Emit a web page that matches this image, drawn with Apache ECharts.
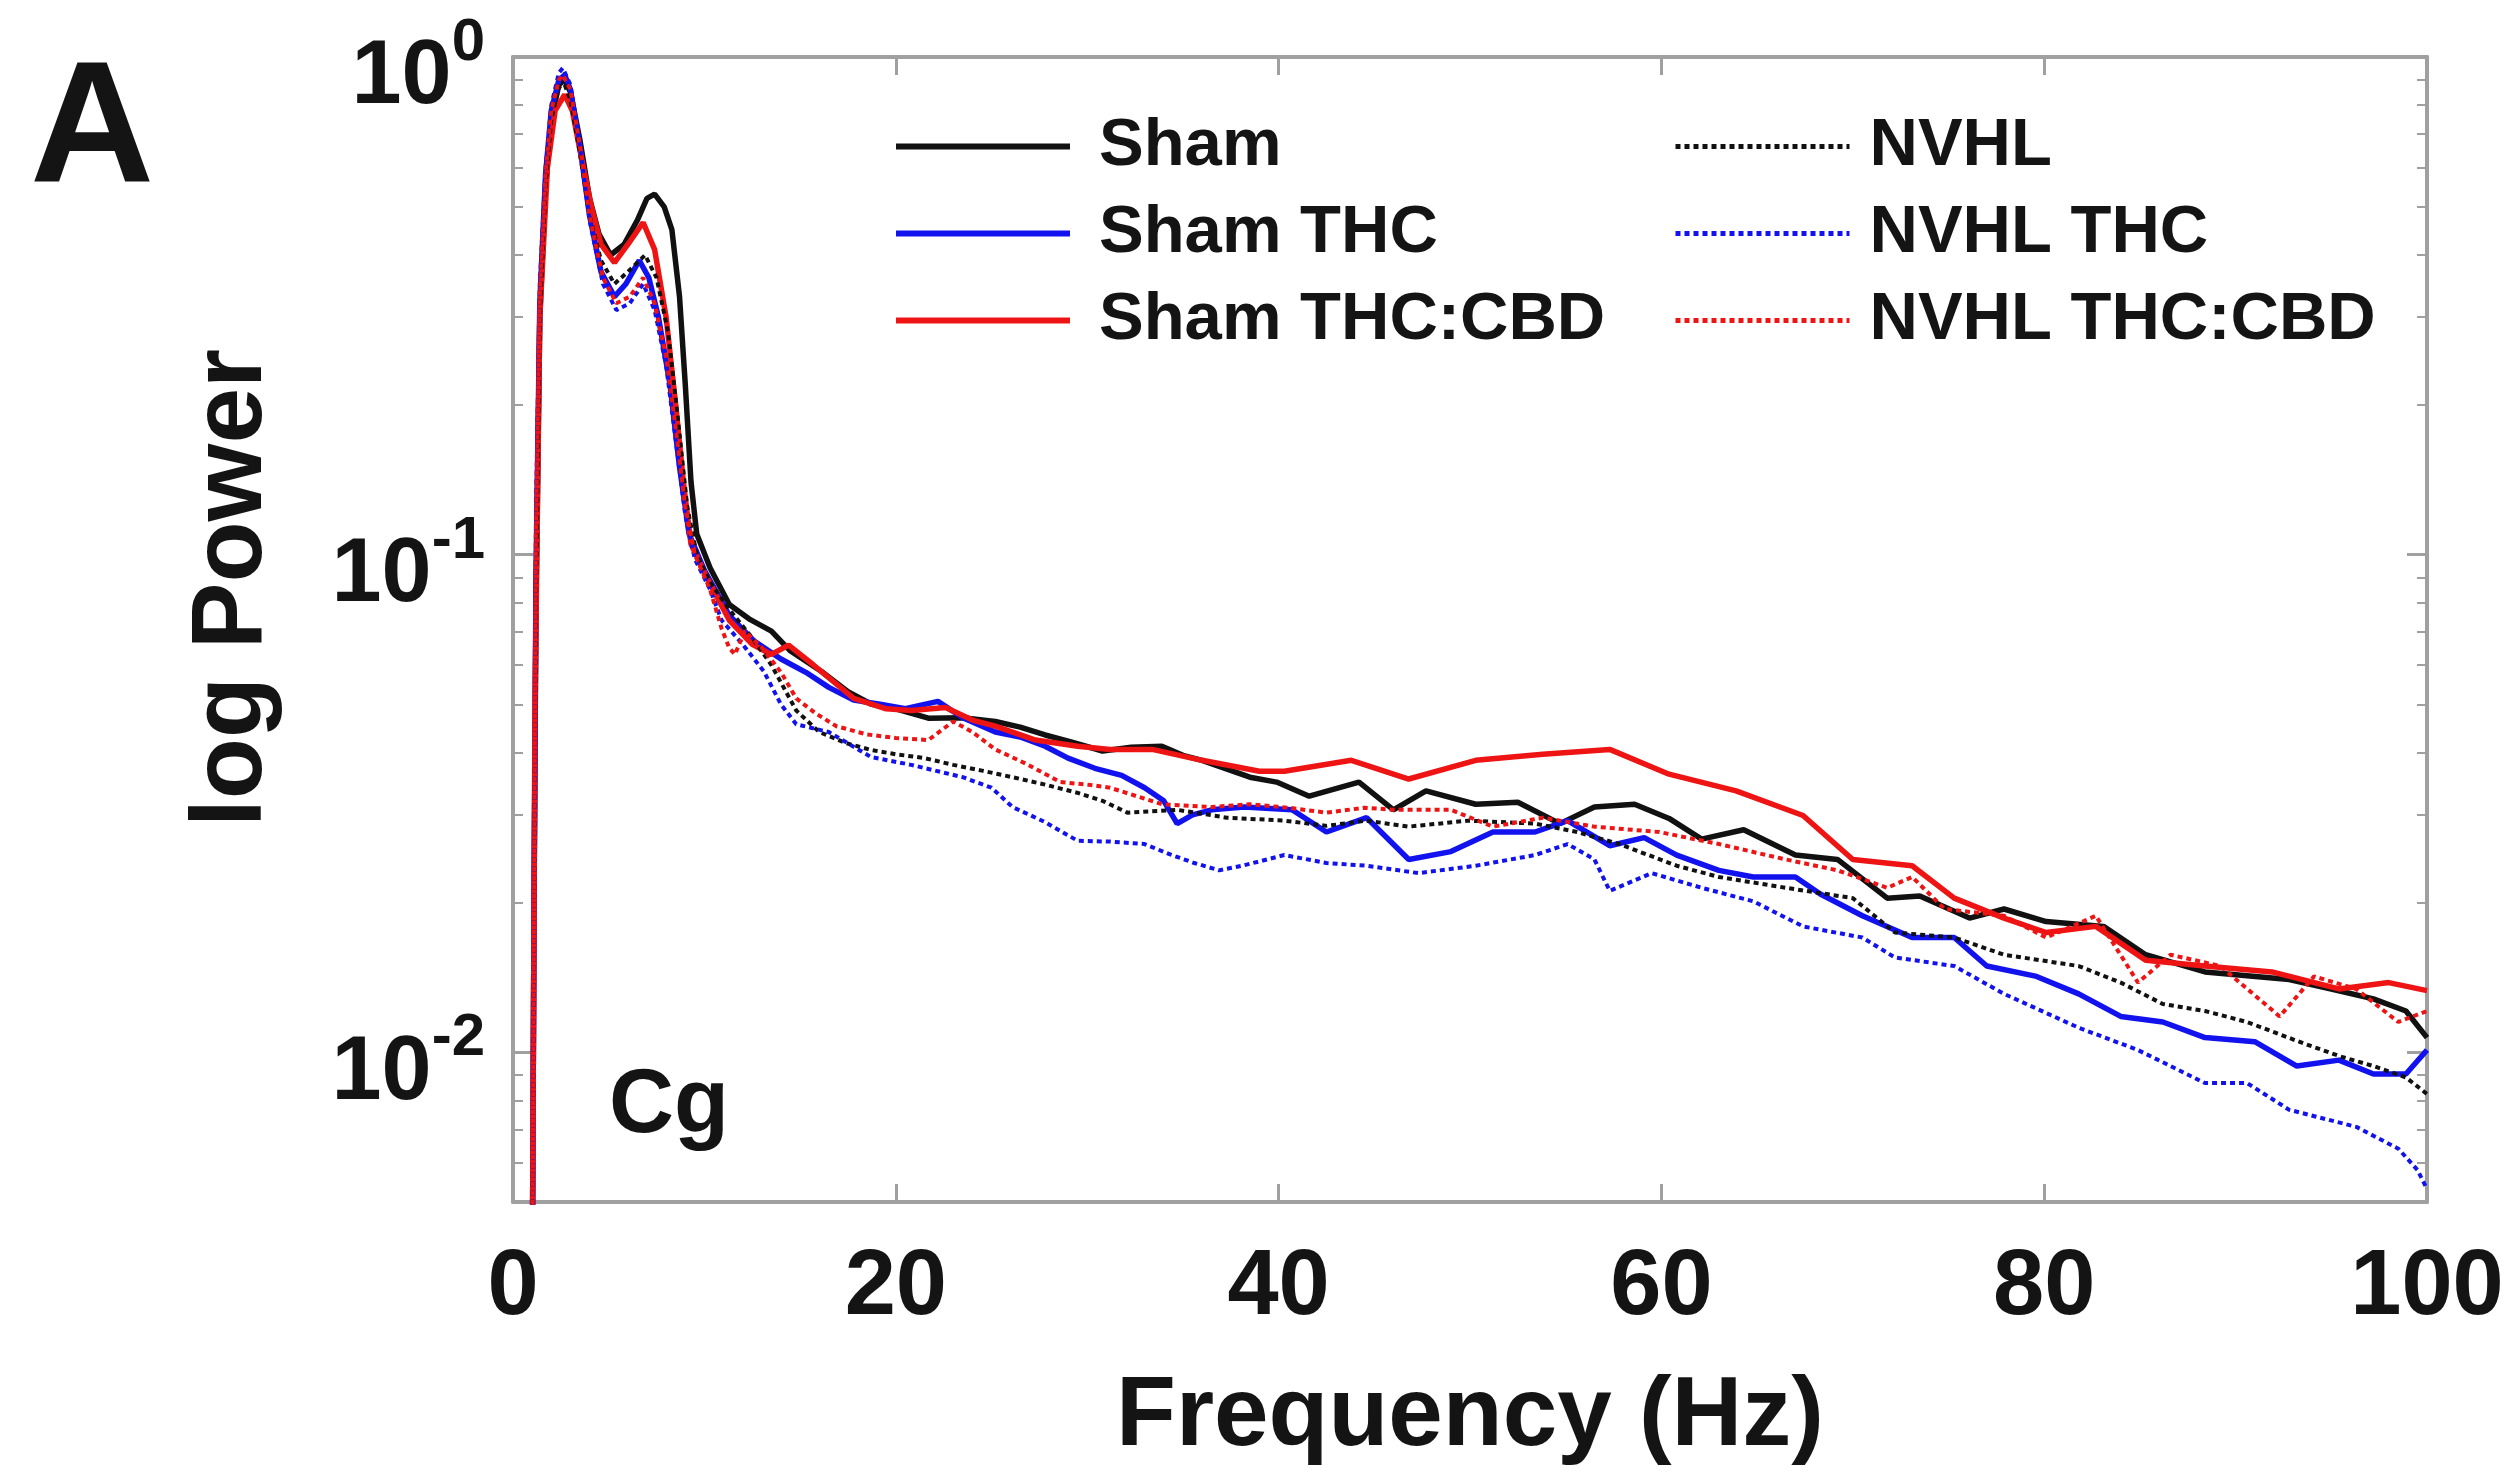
<!DOCTYPE html>
<html>
<head>
<meta charset="utf-8">
<script src="https://cdn.jsdelivr.net/npm/echarts@6/dist/echarts.min.js"></script>
<style>
html,body{margin:0;padding:0;background:#fff;}
#chart{width:2513px;height:1475px;}
</style>
</head>
<body>
<div id="chart"></div>
<script>
// ---- data: [frequency (Hz), power] ----
const seriesNames = ['Sham', 'Sham THC', 'Sham THC:CBD', 'NVHL', 'NVHL THC', 'NVHL THC:CBD'];
const xTickValues = [0, 20, 40, 60, 80, 100];
const yMajorTickValues = [0.01, 0.1, 1];
const yMinorTickValues = [0.006, 0.007, 0.008, 0.009, 0.02, 0.03, 0.04, 0.05, 0.06, 0.07, 0.08, 0.09, 0.2, 0.3, 0.4, 0.5, 0.6, 0.7, 0.8, 0.9];

const sham = [[1.0,0.003],[1.1,0.02],[1.2,0.08],[1.4,0.3],[1.7,0.55],[2.0,0.75],[2.4,0.88],[2.7,0.90],[3.0,0.85],[3.5,0.68],[4.0,0.52],[4.5,0.44],[5.1,0.40],[5.8,0.42],[6.5,0.47],[7.0,0.52],[7.4,0.53],[7.9,0.50],[8.3,0.45],[8.7,0.33],[9.0,0.22],[9.3,0.14],[9.6,0.11],[10.3,0.094],[11.3,0.0794],[12.4,0.074],[13.5,0.0702],[14.5,0.064],[16.1,0.0583],[17.5,0.053],[18.7,0.0501],[20.0,0.049],[21.7,0.0469],[23.5,0.047],[25.2,0.0462],[26.5,0.045],[27.8,0.0434],[29.2,0.042],[30.8,0.0403],[32.3,0.041],[33.9,0.0412],[35.0,0.0395],[36.0,0.0386],[38.5,0.0357],[39.9,0.0349],[41.6,0.0327],[44.2,0.0349],[46.0,0.0307],[47.7,0.0335],[50.3,0.0315],[52.5,0.0318],[54.7,0.0288],[56.5,0.0311],[58.6,0.0315],[60.4,0.0295],[62.1,0.0268],[64.3,0.0280],[67.0,0.0249],[69.2,0.0244],[71.8,0.0204],[73.5,0.0206],[76.1,0.0186],[77.9,0.0194],[80.1,0.0183],[83.1,0.0179],[85.3,0.0157],[88.4,0.0145],[92.8,0.0140],[95.0,0.0134],[97.2,0.0128],[98.9,0.0121],[100,0.0107]];

const shamTHC = [[1.0,0.003],[1.1,0.02],[1.2,0.09],[1.4,0.32],[1.7,0.58],[2.0,0.78],[2.4,0.90],[2.7,0.92],[3.0,0.86],[3.5,0.66],[4.0,0.48],[4.6,0.37],[5.3,0.33],[5.9,0.35],[6.6,0.39],[7.1,0.36],[7.6,0.30],[8.2,0.22],[8.7,0.15],[9.2,0.11],[10.0,0.093],[11.3,0.0755],[12.6,0.067],[14.0,0.0617],[15.3,0.058],[16.5,0.0541],[17.8,0.051],[19.1,0.0501],[20.5,0.049],[22.2,0.0507],[23.5,0.047],[25.2,0.044],[26.5,0.043],[27.8,0.0412],[29.0,0.039],[30.4,0.0372],[31.8,0.036],[33.0,0.034],[34.0,0.032],[34.7,0.0288],[35.5,0.030],[36.5,0.0307],[38.2,0.0311],[40.7,0.0307],[42.5,0.0277],[44.6,0.0296],[46.8,0.0244],[49.0,0.0253],[51.2,0.0277],[53.4,0.0277],[55.1,0.0292],[57.3,0.0260],[59.1,0.0270],[60.8,0.0249],[63.0,0.0232],[64.8,0.0225],[67.0,0.0225],[68.3,0.0208],[70.5,0.0188],[73.1,0.0170],[75.3,0.0170],[77.0,0.0149],[79.6,0.0142],[81.8,0.0131],[84.0,0.0118],[86.2,0.0115],[88.4,0.0107],[91.0,0.0105],[93.2,0.00938],[95.4,0.00964],[97.2,0.00904],[98.9,0.00904],[100,0.0101]];

const shamTHCCBD = [[1.0,0.003],[1.1,0.02],[1.15,0.05],[1.4,0.3],[1.8,0.6],[2.2,0.78],[2.7,0.84],[3.1,0.78],[3.6,0.62],[4.1,0.50],[4.6,0.42],[5.3,0.386],[6.0,0.42],[6.8,0.465],[7.4,0.41],[8.0,0.30],[8.5,0.20],[8.9,0.14],[9.3,0.105],[10.0,0.092],[11.3,0.0738],[12.5,0.066],[13.5,0.063],[14.4,0.0658],[15.7,0.060],[17.8,0.0514],[19.5,0.049],[20.8,0.0486],[22.6,0.0493],[24.0,0.0465],[25.2,0.0452],[27.3,0.0424],[29.5,0.0412],[31.2,0.0406],[33.4,0.0406],[36.0,0.0386],[39.0,0.0367],[40.3,0.0367],[43.8,0.0386],[46.8,0.0354],[50.3,0.0386],[53.8,0.0397],[57.3,0.0406],[60.4,0.0362],[63.9,0.0335],[67.4,0.0299],[70.0,0.0244],[73.1,0.0237],[75.3,0.0204],[77.9,0.0186],[80.1,0.0174],[82.7,0.0179],[85.3,0.0153],[88.4,0.0149],[91.9,0.0145],[95.4,0.0134],[98.0,0.0138],[100,0.0133]];

const nvhl = [[1.0,0.003],[1.1,0.02],[1.2,0.08],[1.4,0.3],[1.7,0.55],[2.0,0.75],[2.4,0.87],[2.7,0.88],[3.0,0.82],[3.5,0.64],[4.0,0.48],[4.6,0.39],[5.3,0.35],[6.0,0.37],[6.9,0.40],[7.5,0.36],[8.1,0.28],[8.6,0.19],[9.1,0.125],[9.6,0.10],[10.3,0.088],[11.3,0.0776],[12.5,0.068],[13.5,0.060],[14.8,0.0486],[16.0,0.0440],[17.4,0.0418],[18.7,0.0405],[20.0,0.0397],[21.5,0.039],[23.0,0.0378],[24.5,0.0368],[26.1,0.0357],[27.8,0.0345],[29.5,0.0332],[30.8,0.032],[32.1,0.0303],[34.7,0.0307],[37.3,0.0296],[40.3,0.0292],[42.5,0.0285],[44.6,0.0292],[46.8,0.0284],[49.9,0.0292],[53.4,0.0288],[55.6,0.0277],[57.8,0.0262],[60.8,0.0237],[63.0,0.0225],[66.5,0.0214],[70.0,0.0204],[72.2,0.0174],[75.3,0.0170],[77.9,0.0157],[81.8,0.0149],[84.0,0.0138],[86.2,0.0125],[88.4,0.0121],[90.6,0.0115],[93.6,0.0104],[95.5,0.0098],[97.2,0.00938],[98.9,0.0089],[100,0.00824]];

const nvhlTHC = [[1.0,0.003],[1.1,0.02],[1.2,0.12],[1.4,0.35],[1.7,0.60],[2.0,0.80],[2.4,0.93],[2.6,0.95],[3.0,0.88],[3.5,0.66],[4.0,0.47],[4.7,0.35],[5.4,0.31],[6.1,0.32],[6.8,0.35],[7.4,0.31],[8.0,0.24],[8.5,0.17],[9.0,0.12],[9.5,0.098],[10.3,0.085],[10.9,0.0738],[12.0,0.066],[13.1,0.0583],[14.0,0.050],[14.8,0.0456],[16.5,0.0440],[18.7,0.0392],[20.8,0.0378],[23.5,0.0357],[25.0,0.034],[26.1,0.0311],[27.8,0.0290],[29.5,0.0266],[31.2,0.0265],[33.0,0.0262],[34.3,0.025],[35.6,0.0240],[36.9,0.0232],[38.1,0.0237],[40.3,0.0249],[42.5,0.0240],[44.6,0.0237],[47.3,0.0229],[50.3,0.0237],[53.4,0.0249],[55.1,0.0262],[56.5,0.0244],[57.3,0.0211],[59.5,0.0229],[62.1,0.0214],[64.8,0.0201],[67.4,0.0179],[70.5,0.0170],[72.2,0.0155],[75.3,0.0149],[77.9,0.0131],[81.8,0.0112],[84.9,0.0101],[88.4,0.00867],[90.6,0.00867],[92.8,0.00766],[96.3,0.00708],[98.5,0.0064],[99.5,0.0058],[100,0.00531]];

const nvhlTHCCBD = [[1.0,0.003],[1.1,0.02],[1.2,0.11],[1.4,0.33],[1.7,0.58],[2.0,0.78],[2.4,0.90],[2.6,0.92],[3.0,0.86],[3.5,0.66],[4.0,0.48],[4.7,0.36],[5.4,0.32],[6.1,0.33],[6.8,0.36],[7.4,0.32],[8.0,0.25],[8.5,0.18],[9.0,0.125],[9.5,0.10],[10.3,0.085],[10.9,0.071],[11.3,0.0649],[11.6,0.063],[12.1,0.0702],[13.0,0.065],[14.0,0.058],[14.8,0.0514],[15.8,0.048],[16.9,0.0452],[18.5,0.0435],[20.0,0.0428],[21.7,0.0424],[23.0,0.0462],[24.0,0.044],[25.2,0.0406],[26.8,0.038],[28.6,0.0349],[30.0,0.0345],[31.2,0.0340],[33.9,0.0315],[36.5,0.0311],[38.5,0.0315],[40.5,0.031],[42.5,0.0303],[44.5,0.031],[46.0,0.0307],[49.0,0.0307],[51.2,0.0284],[53.8,0.0296],[56.5,0.0284],[59.9,0.0277],[63.0,0.0262],[66.5,0.0244],[69.2,0.0232],[71.8,0.0214],[73.1,0.0225],[74.8,0.0194],[77.9,0.0188],[80.1,0.0170],[82.7,0.0188],[84.9,0.0138],[86.6,0.0157],[89.2,0.0149],[92.3,0.0118],[94.1,0.0142],[96.3,0.0134],[98.5,0.0115],[100,0.0121]];

// ---- styling ----
const FONT = 'Liberation Sans, Arial, Helvetica, sans-serif';
const AXIS_GRAY = '#a0a0a0';
const TEXT = '#141414';
const BLACK = '#111111', BLUE = '#1212ee', RED = '#ee1414';

const chart = echarts.init(document.getElementById('chart'), null, {renderer: 'canvas'});

function lineSeries(name, data, color, dotted) {
  return {
    name: name, type: 'line', data: data,
    xAxisIndex: 0, yAxisIndex: 0,
    symbol: 'none', showSymbol: false, clip: true,
    lineStyle: {color: color, width: dotted ? 4 : 5.5, type: dotted ? [5, 4] : 'solid'},
    itemStyle: {color: color},
    emphasis: {disabled: true},
    z: dotted ? 3 : 2
  };
}

const logMin = 0.005, logMax = 1;

function yLabelFormatter(v) {
  const e = Math.round(Math.log10(v));
  if (Math.abs(Math.log10(v) - e) > 1e-6) return '';
  return '{b|10}{s|' + e + '}';
}

function legendCfg(names, left, textPadLeft, lineWidth) {
  return {
    data: names, orient: 'vertical', left: left, top: 113, padding: 0,
    itemWidth: 174, itemHeight: 20, itemGap: 20, selectedMode: false,
    itemStyle: {opacity: 0, borderWidth: 0},
    lineStyle: {width: lineWidth},
    textStyle: {fontFamily: FONT, fontWeight: 'bold', fontSize: 67, color: TEXT, lineHeight: 64, padding: [0, 0, 0, textPadLeft]}
  };
}

const option = {
  backgroundColor: '#ffffff',
  animation: false,
  grid: {left: 513, top: 57, right: 86, bottom: 273, containLabel: false},
  legend: [
    legendCfg(seriesNames.slice(0, 3), 893, 24, 6),
    legendCfg(seriesNames.slice(3), 1673, 15, 5)
  ],
  xAxis: [
    {
      type: 'value', position: 'bottom', min: 0, max: 100, interval: 20,
      name: 'Frequency (Hz)', nameLocation: 'middle', nameGap: 167,
      nameTextStyle: {fontFamily: FONT, fontWeight: 'bold', fontSize: 98, color: TEXT},
      axisLine: {show: true, onZero: false, lineStyle: {color: AXIS_GRAY, width: 4}},
      axisTick: {show: true, inside: true, length: 18, lineStyle: {color: AXIS_GRAY, width: 3}},
      axisLabel: {show: true, margin: 41, fontFamily: FONT, fontWeight: 'bold', fontSize: 92, color: TEXT,
        customValues: xTickValues, showMinLabel: true, showMaxLabel: true},
      splitLine: {show: false}
    },
    {
      type: 'value', position: 'top', min: 0, max: 100, interval: 20,
      axisLine: {show: true, onZero: false, lineStyle: {color: AXIS_GRAY, width: 4}},
      axisTick: {show: true, inside: true, length: 18, lineStyle: {color: AXIS_GRAY, width: 3}},
      axisLabel: {show: false}, splitLine: {show: false}
    }
  ],
  yAxis: [
    {
      type: 'log', logBase: 10, position: 'left', min: logMin, max: logMax,
      axisLine: {show: true, onZero: false, lineStyle: {color: AXIS_GRAY, width: 4}},
      axisTick: {show: true, inside: true, length: 20, customValues: yMajorTickValues, lineStyle: {color: AXIS_GRAY, width: 3}},
      axisLabel: {
        show: true, margin: 28, customValues: yMajorTickValues, formatter: yLabelFormatter,
        padding: [43, 0, 0, 0],
        rich: {
          b: {fontFamily: FONT, fontWeight: 'bold', fontSize: 90, lineHeight: 90, color: TEXT},
          s: {fontFamily: FONT, fontWeight: 'bold', fontSize: 60, lineHeight: 60, padding: [0, 0, 70, 0], color: TEXT}
        }
      },
      splitLine: {show: false}
    },
    {
      type: 'log', logBase: 10, position: 'left', min: logMin, max: logMax,
      axisLine: {show: false, onZero: false},
      axisTick: {show: true, inside: true, length: 10, customValues: yMinorTickValues, lineStyle: {color: AXIS_GRAY, width: 2}},
      axisLabel: {show: false}, splitLine: {show: false}
    },
    {
      type: 'log', logBase: 10, position: 'right', min: logMin, max: logMax,
      axisLine: {show: true, onZero: false, lineStyle: {color: AXIS_GRAY, width: 4}},
      axisTick: {show: true, inside: true, length: 20, customValues: yMajorTickValues, lineStyle: {color: AXIS_GRAY, width: 3}},
      axisLabel: {show: false}, splitLine: {show: false}
    },
    {
      type: 'log', logBase: 10, position: 'right', min: logMin, max: logMax,
      axisLine: {show: false, onZero: false},
      axisTick: {show: true, inside: true, length: 10, customValues: yMinorTickValues, lineStyle: {color: AXIS_GRAY, width: 2}},
      axisLabel: {show: false}, splitLine: {show: false}
    }
  ],
  graphic: [
    {type: 'text', x: 30, y: 134, style: {text: 'A', font: 'bold 172px ' + FONT, fill: TEXT, verticalAlign: 'middle', align: 'left'}},
    {type: 'text', x: 609, y: 1107, style: {text: 'Cg', font: 'bold 90px ' + FONT, fill: TEXT, verticalAlign: 'middle', align: 'left'}},
    {type: 'text', x: 233, y: 588, rotation: Math.PI / 2, style: {text: 'log Power', font: 'bold 100px ' + FONT, fill: TEXT, verticalAlign: 'middle', align: 'center'}}
  ],
  series: [
    lineSeries(seriesNames[0], sham, BLACK, false),
    lineSeries(seriesNames[1], shamTHC, BLUE, false),
    lineSeries(seriesNames[2], shamTHCCBD, RED, false),
    lineSeries(seriesNames[3], nvhl, BLACK, true),
    lineSeries(seriesNames[4], nvhlTHC, BLUE, true),
    lineSeries(seriesNames[5], nvhlTHCCBD, RED, true)
  ]
};
chart.setOption(option);
</script>
</body>
</html>
